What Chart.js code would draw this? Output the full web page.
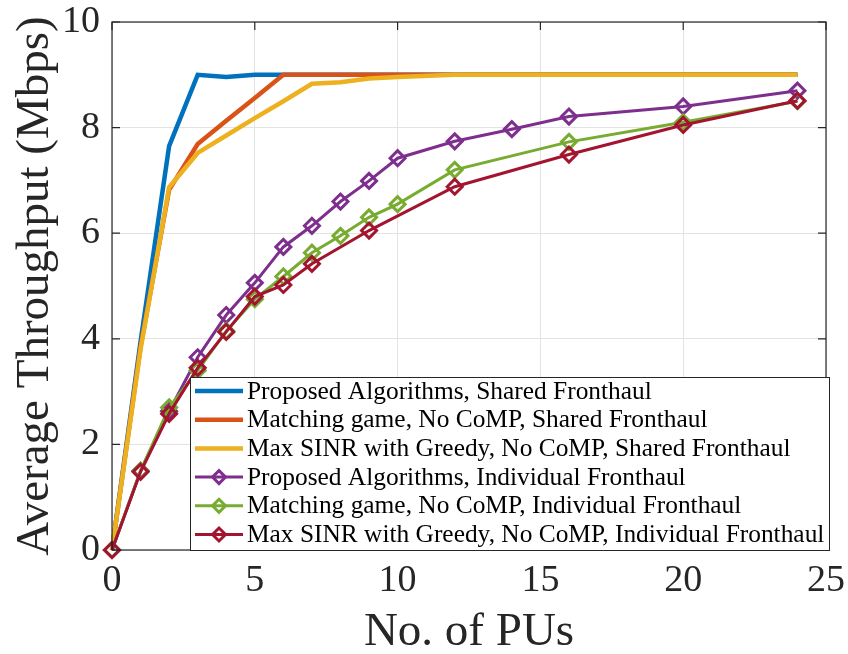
<!DOCTYPE html>
<html>
<head>
<meta charset="utf-8">
<script src="https://cdn.jsdelivr.net/npm/chart.js@4.4.1/dist/chart.umd.min.js"></script>
<style>
  html, body { margin: 0; padding: 0; background: #fff; }
  #wrap { width: 848px; height: 654px; }
</style>
</head>
<body>
<div id="wrap"><canvas id="chart"></canvas></div>
<script>
// x positions (number of PUs) for each curve
const puAll = [0, 1, 2, 3, 4, 5, 6, 7, 8, 9, 10, 12, 14, 16, 20, 24];
const puGreen = [0, 1, 2, 3, 4, 5, 6, 7, 8, 9, 10, 12, 16, 20, 24];
const puRed = [0, 1, 2, 3, 4, 5, 6, 7, 9, 12, 16, 20, 24];

// average throughput (Mbps)
const propShared = [0, 3.95, 7.65, 9.0, 8.96, 9.0, 9.0, 9.0, 9.0, 9.0, 9.0, 9.0, 9.0, 9.0, 9.0, 9.0];
const matchShared = [0, 3.85, 6.82, 7.69, 8.13, 8.56, 9.0, 9.0, 9.0, 9.0, 9.0, 9.0, 9.0, 9.0, 9.0, 9.0];
const sinrShared = [0, 3.8, 6.87, 7.52, 7.85, 8.18, 8.5, 8.83, 8.86, 8.93, 8.96, 9.0, 9.0, 9.0, 9.0, 9.0];
const propIndiv = [0, 1.5, 2.63, 3.65, 4.45, 5.06, 5.74, 6.14, 6.6, 6.99, 7.42, 7.74, 7.97, 8.21, 8.4, 8.7];
const matchIndiv = [0, 1.5, 2.7, 3.4, 4.15, 4.75, 5.18, 5.63, 5.95, 6.3, 6.55, 7.2, 7.73, 8.1, 8.5];
const sinrIndiv = [0, 1.48, 2.58, 3.45, 4.13, 4.8, 5.02, 5.42, 6.05, 6.88, 7.49, 8.05, 8.51];

const seriesNames = [
  'Proposed Algorithms, Shared Fronthaul',
  'Matching game, No CoMP, Shared Fronthaul',
  'Max SINR with Greedy, No CoMP, Shared Fronthaul',
  'Proposed Algorithms, Individual Fronthaul',
  'Matching game, No CoMP, Individual Fronthaul',
  'Max SINR with Greedy, No CoMP, Individual Fronthaul'
];
const xTicks = [0, 5, 10, 15, 20, 25];
const yTicks = [0, 2, 4, 6, 8, 10];

const FONT = '"Liberation Serif", "DejaVu Serif", serif';
const AXIS = '#262626';

function pts(xs, ys) {
  return ys.map((y, i) => ({ x: xs[i], y: y }));
}

function makeSet(i, xs, ys, color, marker) {
  return {
    label: seriesNames[i],
    data: pts(xs, ys),
    borderColor: color,
    backgroundColor: 'rgba(255,255,255,0)',
    borderWidth: marker ? 3 : 4.5,
    pointStyle: marker ? 'rectRot' : false,
    pointRadius: marker ? 7.5 : 0,
    pointBorderWidth: 3,
    pointBorderColor: color,
    tension: 0,
    clip: false,
    order: 10 - i // later series on top, like MATLAB
  };
}

// inward ticks, box outline, titles and the MATLAB-like legend box
const matlabLook = {
  id: 'matlabLook',
  afterDatasetsDraw(chart) {
    const ctx = chart.ctx;
    const a = chart.chartArea;
    const xs = chart.scales.x, ys = chart.scales.y;
    ctx.save();
    ctx.strokeStyle = AXIS;
    ctx.lineWidth = 1.2;
    ctx.strokeRect(a.left, a.top, a.right - a.left, a.bottom - a.top);
    ctx.beginPath();
    xTicks.forEach(v => {
      const px = xs.getPixelForValue(v);
      ctx.moveTo(px, a.bottom); ctx.lineTo(px, a.bottom - 8);
      ctx.moveTo(px, a.top); ctx.lineTo(px, a.top + 8);
    });
    yTicks.forEach(v => {
      const py = ys.getPixelForValue(v);
      ctx.moveTo(a.left, py); ctx.lineTo(a.left + 8, py);
      ctx.moveTo(a.right, py); ctx.lineTo(a.right - 8, py);
    });
    ctx.stroke();

    // legend
    const lx = 190, ly = 377, lw = 639, lh = 173, row = 28.7;
    ctx.fillStyle = '#fff';
    ctx.fillRect(lx, ly, lw, lh);
    ctx.strokeStyle = AXIS;
    ctx.lineWidth = 1;
    ctx.strokeRect(lx + 0.5, ly + 0.5, lw, lh);
    ctx.font = '25.4px ' + FONT;
    ctx.textBaseline = 'middle';
    ctx.textAlign = 'left';
    chart.data.datasets.forEach((ds, i) => {
      const cy = ly + 14 + i * row;
      ctx.strokeStyle = ds.borderColor;
      ctx.lineWidth = ds.borderWidth;
      ctx.beginPath();
      ctx.moveTo(lx + 5, cy); ctx.lineTo(lx + 53, cy);
      ctx.stroke();
      if (ds.pointRadius > 0) {
        const r = ds.pointRadius - 1;
        ctx.lineWidth = ds.pointBorderWidth;
        ctx.beginPath();
        ctx.moveTo(lx + 29, cy - r); ctx.lineTo(lx + 29 + r, cy);
        ctx.lineTo(lx + 29, cy + r); ctx.lineTo(lx + 29 - r, cy);
        ctx.closePath();
        ctx.stroke();
      }
      ctx.fillStyle = '#000';
      ctx.fillText(ds.label, lx + 57, cy + 1);
    });

    // axis titles
    ctx.fillStyle = AXIS;
    ctx.font = '47px ' + FONT;
    ctx.textAlign = 'center';
    ctx.textBaseline = 'alphabetic';
    ctx.fillText('No. of PUs', (a.left + a.right) / 2, 645);
    ctx.translate(48, (a.top + a.bottom) / 2);
    ctx.rotate(-Math.PI / 2);
    ctx.fillText('Average Throughput (Mbps)', 0, 0);
    ctx.restore();
  }
};

new Chart(document.getElementById('chart'), {
  type: 'line',
  data: {
    datasets: [
      makeSet(0, puAll, propShared, '#0072BD', false),
      makeSet(1, puAll, matchShared, '#D95319', false),
      makeSet(2, puAll, sinrShared, '#EDB120', false),
      makeSet(3, puAll, propIndiv, '#7E2F8E', true),
      makeSet(4, puGreen, matchIndiv, '#77AC30', true),
      makeSet(5, puRed, sinrIndiv, '#A2142F', true)
    ]
  },
  options: {
    responsive: true,
    maintainAspectRatio: false,
    animation: false,
    layout: { padding: { top: 22, right: 22, left: 0, bottom: 0 } },
    scales: {
      x: {
        type: 'linear',
        min: 0, max: 25,
        afterFit: s => { s.height = 104; s.paddingLeft = 0; s.paddingRight = 0; },
        afterBuildTicks: s => { s.ticks = xTicks.map(v => ({ value: v })); },
        grid: { color: '#e3e3e3', lineWidth: 1, drawTicks: false },
        border: { display: false },
        ticks: { color: AXIS, font: { family: FONT, size: 38 }, padding: 8, maxRotation: 0 }
      },
      y: {
        min: 0, max: 10,
        afterFit: s => { s.width = 112; s.paddingTop = 0; s.paddingBottom = 0; },
        afterBuildTicks: s => { s.ticks = yTicks.map(v => ({ value: v })); },
        grid: { color: '#e3e3e3', lineWidth: 1, drawTicks: false },
        border: { display: false },
        ticks: { color: AXIS, font: { family: FONT, size: 38 }, padding: 12 }
      }
    },
    plugins: {
      legend: { display: false },
      tooltip: { enabled: false }
    }
  },
  plugins: [matlabLook]
});
</script>
</body>
</html>
